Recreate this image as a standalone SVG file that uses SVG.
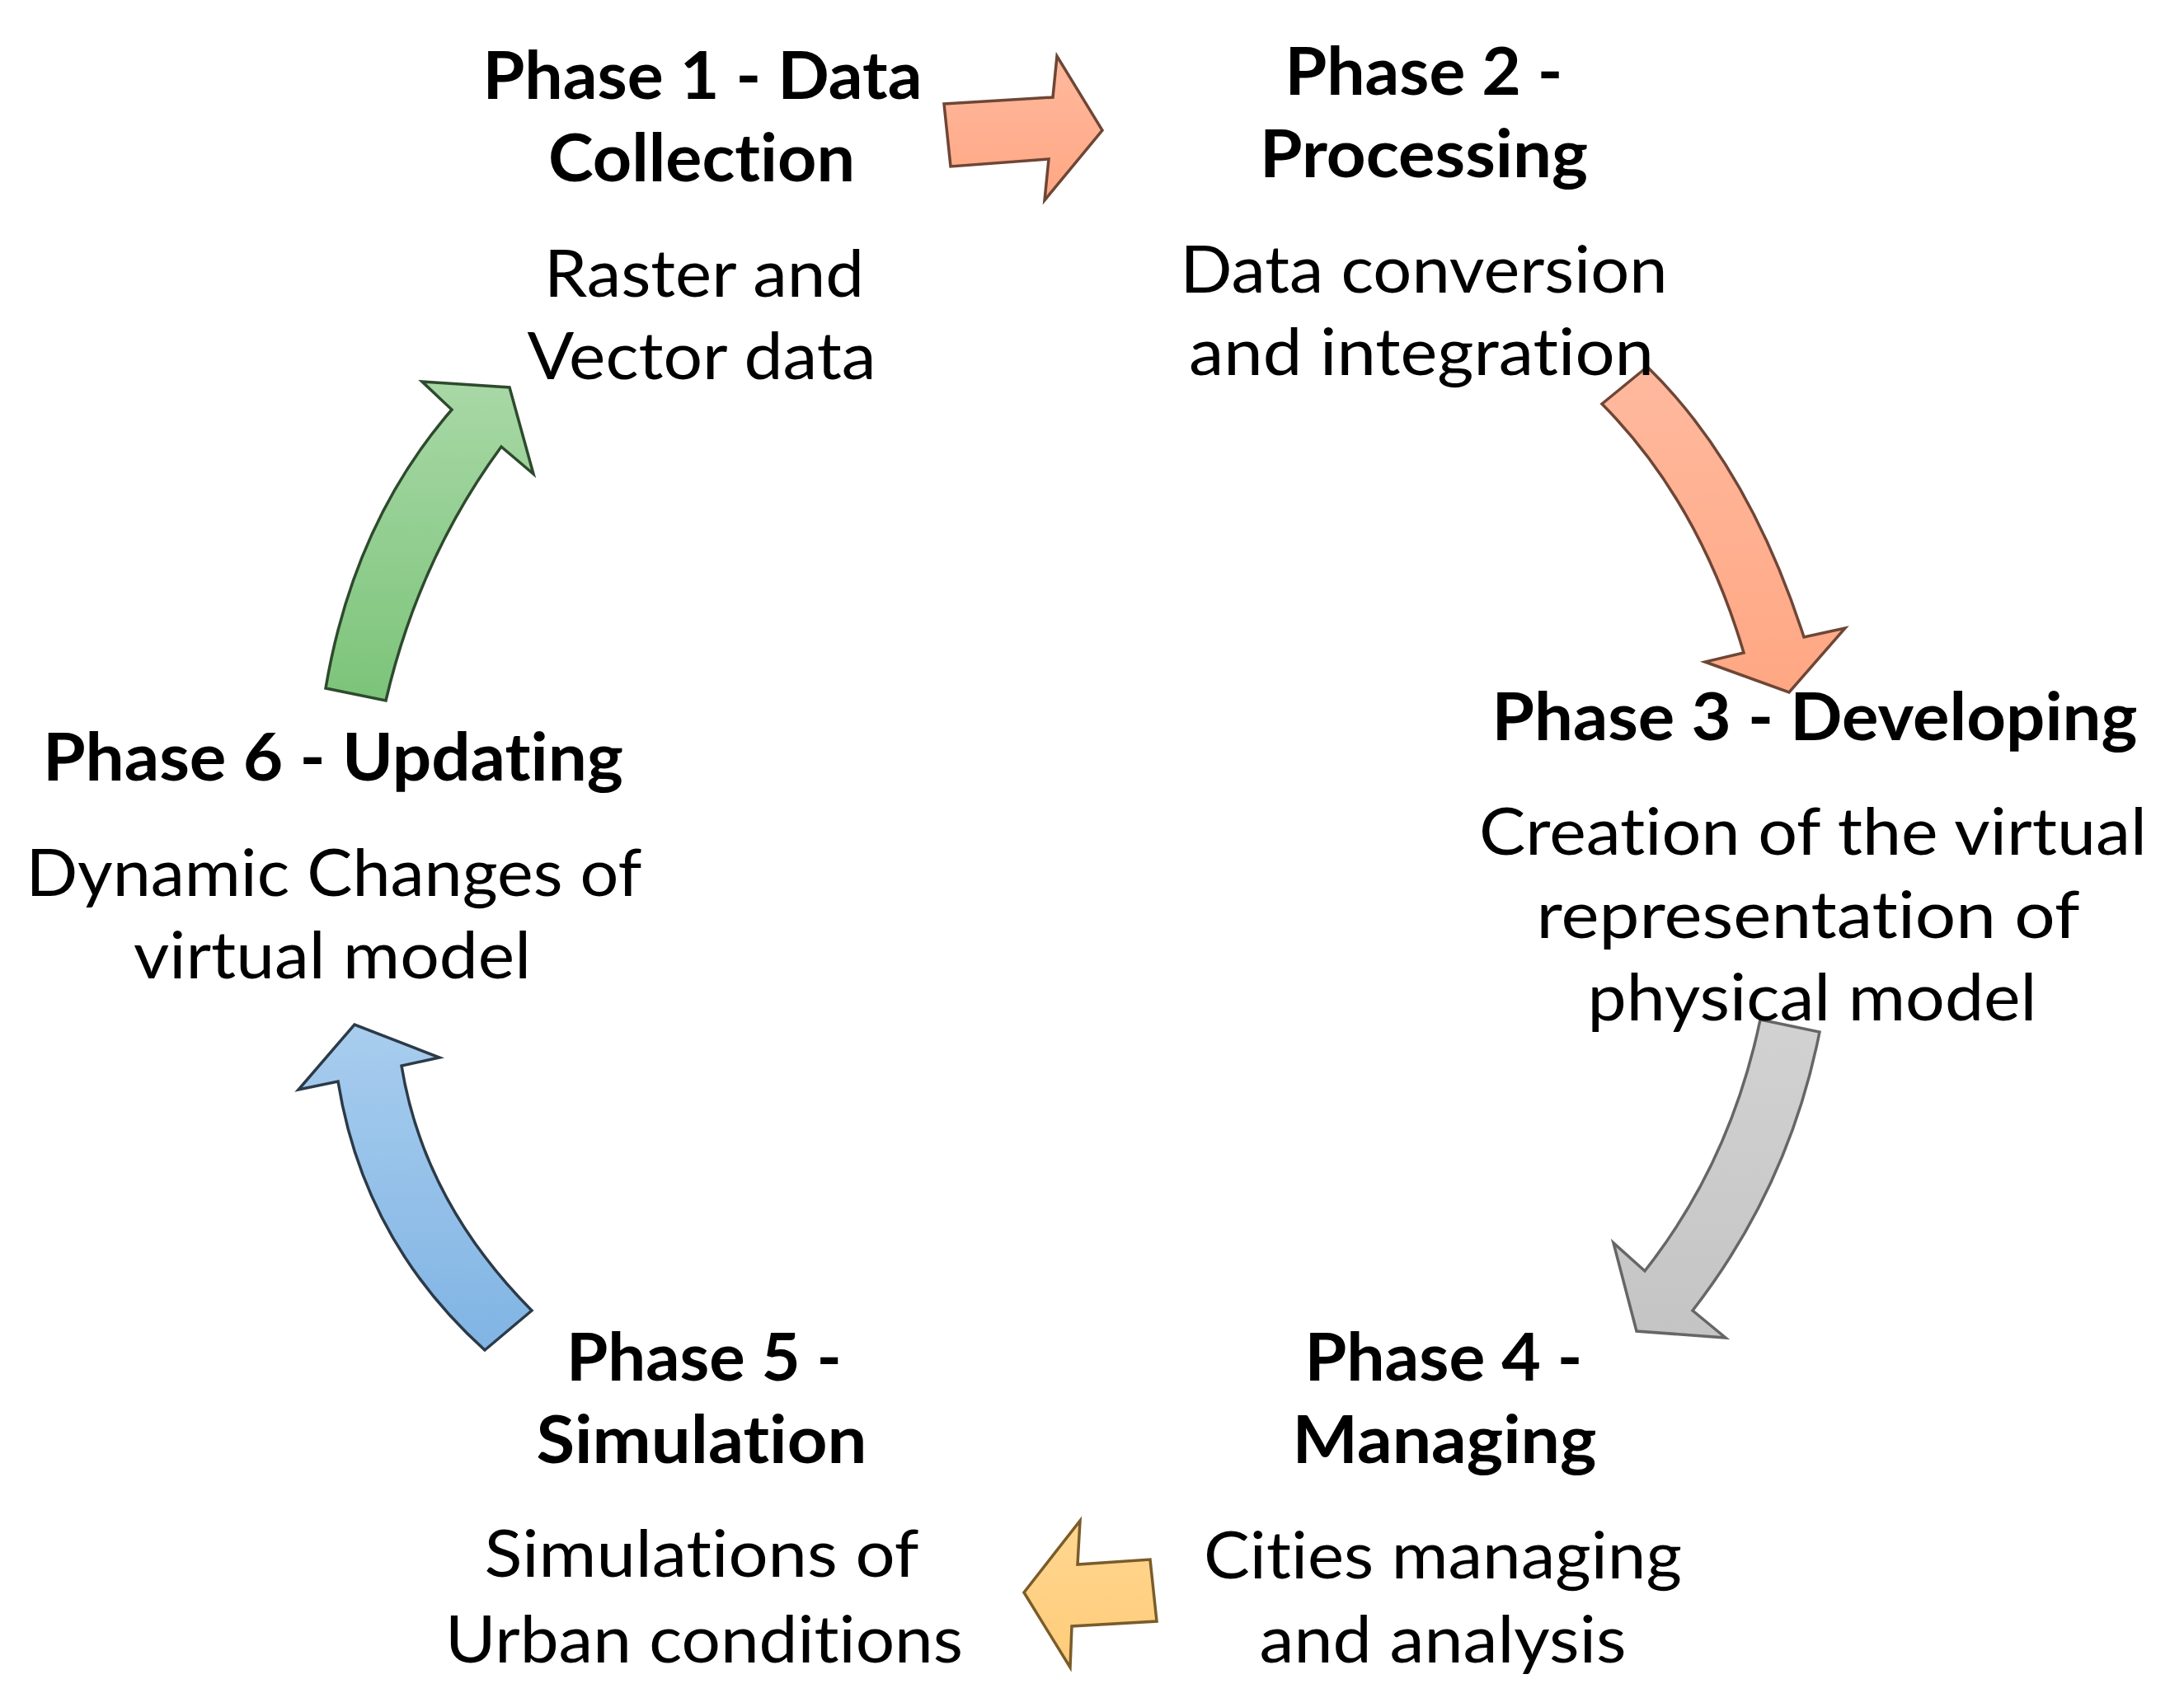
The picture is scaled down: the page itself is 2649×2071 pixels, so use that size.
<svg xmlns="http://www.w3.org/2000/svg" width="2649" height="2071" viewBox="0 0 2649 2071">
<style>
text{font-family:Lato,"Liberation Sans",sans-serif;font-size:80px;fill:#000;text-anchor:middle;font-variant-ligatures:none;font-feature-settings:"liga" 0}
.t{font-weight:bold}
.b{font-weight:normal}
.salmon{fill:url(#gS);stroke:#6e4636;stroke-width:3.5;stroke-linejoin:miter}
.gray{fill:url(#gG);stroke:#666;stroke-width:3.5}
.yel{fill:url(#gY);stroke:#7a5c2a;stroke-width:3.5}
.blue{fill:url(#gB);stroke:#2c3a48;stroke-width:3.5}
.green{fill:url(#gN);stroke:#2e4a2e;stroke-width:3.5}
</style>
<defs>
<linearGradient id="gS" x1="0" y1="0" x2="0" y2="1"><stop offset="0" stop-color="#FFB99E"/><stop offset="1" stop-color="#FFA783"/></linearGradient>
<linearGradient id="gG" x1="0" y1="0" x2="0" y2="1"><stop offset="0" stop-color="#D2D2D2"/><stop offset="1" stop-color="#C4C4C4"/></linearGradient>
<linearGradient id="gY" x1="0" y1="0" x2="0" y2="1"><stop offset="0" stop-color="#FFD690"/><stop offset="1" stop-color="#FFCC7A"/></linearGradient>
<linearGradient id="gB" x1="0" y1="0" x2="0" y2="1"><stop offset="0" stop-color="#A8CDEE"/><stop offset="1" stop-color="#80B4E4"/></linearGradient>
<linearGradient id="gN" x1="0" y1="0" x2="0" y2="1"><stop offset="0" stop-color="#A8D8A6"/><stop offset="1" stop-color="#7CC47A"/></linearGradient>
</defs>
<rect width="2649" height="2071" fill="#fff"/>
<g id="connectors">
<path class="salmon" d="M1145,126 L1277,118 L1282,68 L1337,158 L1267,243 L1272,193 L1153,202 Z"/>
<path class="salmon" d="M1943,490 L1998,445 Q2121,565 2188,773 L2238,762 L2170,840 L2068,803 L2115,792 Q2061,609 1943,490 Z"/>
<path class="gray" d="M2135,1237 L2207,1252 Q2170,1439 2053,1590 L2093,1623 L1985,1615 L1957,1508 L1995,1542 Q2099,1410 2135,1237 Z"/>
<path class="yel" d="M1242,1932 L1310,1845 L1307,1898 L1395,1892 L1403,1967 L1300,1973 L1298,2023 Z"/>
<path class="blue" d="M645,1590 L588,1638 Q441,1505 410,1312 L362,1322 L430,1243 L533,1283 L487,1293 Q514,1458 645,1590 Z"/>
<path class="green" d="M395,835 L468,850 Q508,678 608,542 L647,575 L618,470 L512,463 L548,497 Q429,634 395,835 Z"/>
</g>
<g id="phase1">
<text class="t" x="852" y="120" textLength="533" lengthAdjust="spacingAndGlyphs">Phase 1 - Data</text>
<text class="t" x="851" y="220" textLength="372" lengthAdjust="spacingAndGlyphs">Collection</text>
<text class="b" x="854" y="360" textLength="388" lengthAdjust="spacingAndGlyphs">Raster and</text>
<text class="b" x="851" y="460" textLength="423" lengthAdjust="spacingAndGlyphs">Vector data</text>
</g>
<g id="phase2">
<text class="t" x="1727" y="115" textLength="337" lengthAdjust="spacingAndGlyphs">Phase 2 -</text>
<text class="t" x="1727" y="215" textLength="398" lengthAdjust="spacingAndGlyphs">Processing</text>
<text class="b" x="1727" y="355" textLength="591" lengthAdjust="spacingAndGlyphs">Data conversion</text>
<text class="b" x="1724" y="455" textLength="564" lengthAdjust="spacingAndGlyphs">and integration</text>
</g>
<g id="phase3">
<text class="t" x="2201" y="898" textLength="783" lengthAdjust="spacingAndGlyphs">Phase 3 - Developing</text>
<text class="b" x="2199" y="1037" textLength="810" lengthAdjust="spacingAndGlyphs">Creation of the virtual</text>
<text class="b" x="2193" y="1138" textLength="659" lengthAdjust="spacingAndGlyphs">representation of</text>
<text class="b" x="2198" y="1238" textLength="545" lengthAdjust="spacingAndGlyphs">physical model</text>
</g>
<g id="phase4">
<text class="t" x="1751" y="1675" textLength="337" lengthAdjust="spacingAndGlyphs">Phase 4 -</text>
<text class="t" x="1752" y="1775" textLength="369" lengthAdjust="spacingAndGlyphs">Managing</text>
<text class="b" x="1750" y="1915" textLength="580" lengthAdjust="spacingAndGlyphs">Cities managing</text>
<text class="b" x="1750" y="2017" textLength="445" lengthAdjust="spacingAndGlyphs">and analysis</text>
</g>
<g id="phase5">
<text class="t" x="854" y="1675" textLength="334" lengthAdjust="spacingAndGlyphs">Phase 5 -</text>
<text class="t" x="851" y="1775" textLength="401" lengthAdjust="spacingAndGlyphs">Simulation</text>
<text class="b" x="851" y="1913" textLength="527" lengthAdjust="spacingAndGlyphs">Simulations of</text>
<text class="b" x="854" y="2017" textLength="628" lengthAdjust="spacingAndGlyphs">Urban conditions</text>
</g>
<g id="phase6">
<text class="t" x="404" y="947" textLength="704" lengthAdjust="spacingAndGlyphs">Phase 6 - Updating</text>
<text class="b" x="405" y="1087" textLength="747" lengthAdjust="spacingAndGlyphs">Dynamic Changes of</text>
<text class="b" x="403" y="1187" textLength="482" lengthAdjust="spacingAndGlyphs">virtual model</text>
</g>
</svg>
